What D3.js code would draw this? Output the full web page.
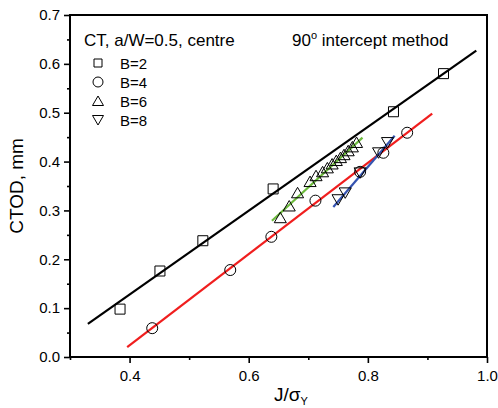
<!DOCTYPE html>
<html>
<head>
<meta charset="utf-8">
<script src="https://cdn.jsdelivr.net/npm/d3@7"></script>
<style>
  html, body { margin: 0; padding: 0; background: #fff; }
  svg { display: block; font-family: "Liberation Sans", Arial, sans-serif; }
</style>
</head>
<body>
<svg id="chart" width="498" height="408"></svg>
<script>
// ---- data ----
const b2X = [0.384, 0.451, 0.523, 0.641, 0.843, 0.927];
const b2Y = [0.098, 0.176, 0.238, 0.344, 0.502, 0.580];
const b4X = [0.438, 0.569, 0.638, 0.712, 0.787, 0.826, 0.866];
const b4Y = [0.059, 0.178, 0.246, 0.320, 0.379, 0.418, 0.459];
const b6X = [0.653, 0.668, 0.682, 0.703, 0.713, 0.724, 0.732, 0.740, 0.747, 0.754, 0.760, 0.767, 0.774, 0.781];
const b6Y = [0.285, 0.309, 0.336, 0.359, 0.371, 0.379, 0.387, 0.395, 0.402, 0.408, 0.414, 0.422, 0.430, 0.439];
const b8X = [0.750, 0.762, 0.787, 0.818, 0.833];
const b8Y = [0.322, 0.336, 0.377, 0.418, 0.439];
// fitted lines (endpoints)
const fit2X = [0.330, 0.982], fit2Y = [0.068, 0.627];
const fit4X = [0.396, 0.908], fit4Y = [0.020, 0.498];
const fit6X = [0.639, 0.791], fit6Y = [0.279, 0.449];
const fit8X = [0.742, 0.845], fit8Y = [0.307, 0.453];
const yTicks = [0.0, 0.1, 0.2, 0.3, 0.4, 0.5, 0.6, 0.7];
const yMinor = [0.05, 0.15, 0.25, 0.35, 0.45, 0.55, 0.65];
const xTicks = [0.4, 0.6, 0.8, 1.0];
const xMinor = [0.3, 0.5, 0.7, 0.9];
const legendLabels = ["B=2", "B=4", "B=6", "B=8"];

// ---- layout ----
const L = 70, R = 487, T = 15, B = 357;
const svg = d3.select("#chart");
const x = d3.scaleLinear().domain([0.3, 1.0]).range([L, R]);
const y = d3.scaleLinear().domain([0, 0.7]).range([B, T]);

// axes
const yAx = svg.append("g").attr("transform", `translate(${L},0)`)
  .call(d3.axisLeft(y).tickValues(yTicks).tickSize(6).tickPadding(4).tickFormat(d3.format(".1f")));
const yAxMin = svg.append("g").attr("transform", `translate(${L},0)`)
  .call(d3.axisLeft(y).tickValues(yMinor).tickSize(3).tickFormat(""));
const xAx = svg.append("g").attr("transform", `translate(0,${B})`)
  .call(d3.axisBottom(x).tickValues(xTicks).tickSize(6).tickPadding(7).tickFormat(d3.format(".1f")));
const xAxMin = svg.append("g").attr("transform", `translate(0,${B})`)
  .call(d3.axisBottom(x).tickValues(xMinor).tickSize(3).tickFormat(""));
[yAx, yAxMin, xAx, xAxMin].forEach(g => {
  g.select(".domain").remove();
  g.selectAll(".tick line").attr("stroke", "#000").attr("stroke-width", 1.6);
  g.selectAll(".tick text").attr("fill", "#000").style("font-size", "15px")
    .style("font-family", '"Liberation Sans", Arial, sans-serif');
});

// frame
svg.append("rect").attr("x", L).attr("y", T).attr("width", R - L).attr("height", B - T)
  .attr("fill", "none").attr("stroke", "#000").attr("stroke-width", 2);

// axis titles
svg.append("text").attr("transform", `translate(23,186) rotate(-90)`)
  .attr("text-anchor", "middle").style("font-size", "19px").text("CTOD, mm");
const xt = svg.append("text").attr("x", 274).attr("y", 401).style("font-size", "19px");
xt.append("tspan").text("J/σ");
xt.append("tspan").attr("dy", 4).style("font-size", "11px").text("Y");

// fit lines
const line = d3.line().x(d => x(d[0])).y(d => y(d[1]));
const fits = [
  [fit2X, fit2Y, "#000000"],
  [fit4X, fit4Y, "#f01e1e"],
  [fit6X, fit6Y, "#6cba3c"],
  [fit8X, fit8Y, "#3553b0"]
];
fits.forEach(([xs, ys, c]) => {
  svg.append("path").datum(xs.map((v, i) => [v, ys[i]]))
    .attr("d", line).attr("fill", "none").attr("stroke", c).attr("stroke-width", 2.2);
});

// markers
const sym = {
  square: (s) => `M${-s/2},${-s/2}h${s}v${s}h${-s}Z`,
  circle: (s) => `M${s/2},0A${s/2},${s/2} 0 1,1 ${-s/2},0A${s/2},${s/2} 0 1,1 ${s/2},0Z`,
  up: (s) => `M0,${-s*0.5}L${s*0.55},${s*0.45}L${-s*0.55},${s*0.45}Z`,
  down: (s) => `M0,${s*0.5}L${s*0.55},${-s*0.45}L${-s*0.55},${-s*0.45}Z`
};
const series = [
  [b2X, b2Y, "square", 10],
  [b4X, b4Y, "circle", 11],
  [b6X, b6Y, "up", 11],
  [b8X, b8Y, "down", 11]
];
series.forEach(([xs, ys, shape, s]) => {
  svg.append("g").selectAll("path").data(xs.map((v, i) => [v, ys[i]])).join("path")
    .attr("transform", d => `translate(${x(d[0])},${y(d[1])})`)
    .attr("d", sym[shape](s)).attr("fill", "none").attr("stroke", "#000").attr("stroke-width", 1);
});

// legend / annotations
svg.append("text").attr("x", 84).attr("y", 46).style("font-size", "17px").text("CT, a/W=0.5, centre");
const ann = svg.append("text").attr("x", 292).attr("y", 46).style("font-size", "17px");
ann.append("tspan").text("90");
ann.append("tspan").attr("dy", -7).style("font-size", "11px").text("o");
ann.append("tspan").attr("dy", 7).text(" intercept method");

const shapes = ["square", "circle", "up", "down"];
legendLabels.forEach((lab, i) => {
  const cy = 63 + i * 19;
  svg.append("path").attr("transform", `translate(98,${cy})`)
    .attr("d", sym[shapes[i]](shapes[i] === "square" ? 8 : 10))
    .attr("fill", "none").attr("stroke", "#000").attr("stroke-width", 1);
  svg.append("text").attr("x", 120).attr("y", cy + 5.5).style("font-size", "15px").text(lab);
});
</script>
</body>
</html>
